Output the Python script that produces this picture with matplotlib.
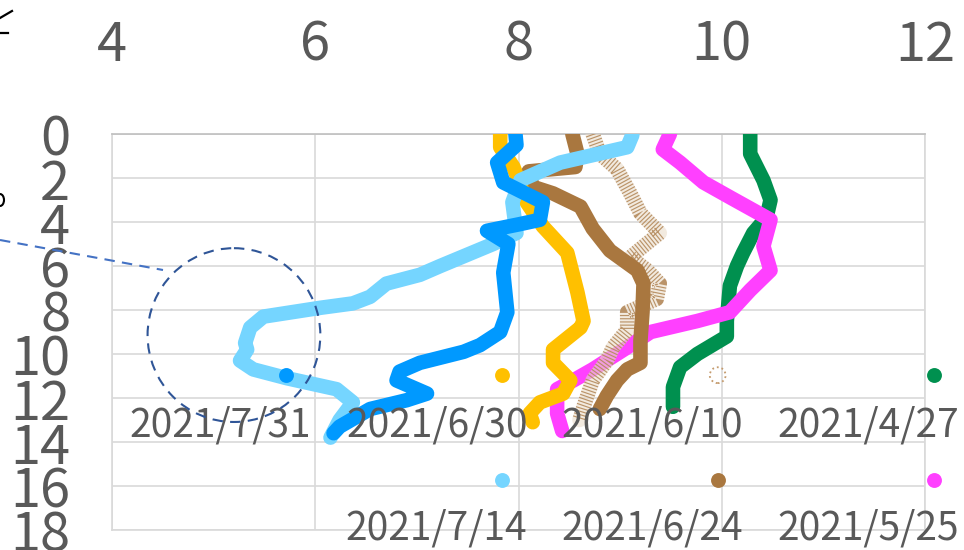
import matplotlib
matplotlib.use("Agg")
import matplotlib.pyplot as plt
from matplotlib.patches import Ellipse, Arc
from matplotlib.lines import Line2D

plt.rcParams['font.family'] = ['Noto Sans CJK JP', 'DejaVu Sans']

# depth profiles (x value, depth m)
x_0731 = [7.97, 7.98, 7.79, 7.85, 8.24, 8.21, 8.01, 7.69, 7.90, 7.85, 7.89, 7.82,
          7.62, 7.46, 7.03, 6.83, 6.80, 7.10, 6.90, 6.54, 6.24, 6.18]
y_0731 = [0, 0.5, 1.3, 2.2, 3.1, 3.9, 4.1, 4.4, 5.0, 6.3, 8.1, 9.0,
          9.6, 9.9, 10.4, 10.8, 11.2, 11.8, 12.1, 12.5, 13.3, 13.6]

x_0714 = [9.12, 9.07, 8.41, 8.02, 7.94, 7.98, 7.75, 7.23, 7.03, 6.70, 6.54, 6.37,
          6.05, 5.49, 5.36, 5.31, 5.33, 5.26, 5.39, 5.72, 6.21, 6.37, 6.24, 6.15]
y_0714 = [0.05, 0.6, 1.3, 2.1, 3.1, 4.5, 5.0, 6.0, 6.4, 6.8, 7.4, 7.7,
          7.9, 8.3, 8.8, 9.5, 9.8, 10.3, 10.7, 11.1, 11.6, 12.2, 13.0, 13.8]

x_0630 = [7.82, 7.82, 7.95, 8.08, 8.24, 8.48, 8.58, 8.64, 8.61, 8.34, 8.34, 8.51,
          8.44, 8.21, 8.11, 8.14]
y_0630 = [0, 0.6, 1.5, 3.1, 4.2, 5.4, 7.2, 8.5, 8.8, 9.8, 10.4, 11.2,
          11.8, 12.2, 12.7, 13.1]

x_0624 = [8.53, 8.58, 8.56, 8.10, 8.14, 8.34, 8.61, 8.73, 8.90, 9.17, 9.23, 9.22,
          9.20, 9.20, 9.07, 8.97, 8.87, 8.80]
y_0624 = [0, 0.9, 1.5, 1.7, 2.4, 2.7, 3.3, 4.3, 5.3, 6.2, 6.8, 8.1,
          9.4, 10.4, 10.7, 11.2, 11.9, 12.5]

x_0610 = [8.73, 8.80, 8.97, 9.10, 9.20, 9.39, 9.23, 9.10, 9.27, 9.39, 9.36, 9.07,
          9.07, 8.93, 8.87, 8.73, 8.64, 8.60]
y_0610 = [0, 0.9, 1.6, 2.7, 3.6, 4.5, 5.1, 5.6, 6.2, 6.8, 7.5, 8.1,
          8.9, 9.7, 10.3, 11.2, 12.4, 13.0]

x_0525 = [9.49, 9.42, 9.59, 9.82, 10.09, 10.48, 10.41, 10.48, 10.28, 10.08, 9.76, 9.30,
          9.07, 8.73, 8.54, 8.38, 8.38, 8.43]
y_0525 = [0, 0.7, 1.3, 2.2, 2.9, 3.9, 5.1, 6.2, 7.1, 8.1, 8.5, 9.0,
          9.7, 10.7, 11.2, 11.6, 12.7, 13.5]

x_0427 = [10.28, 10.28, 10.41, 10.48, 10.44, 10.31, 10.21, 10.15, 10.08, 10.05, 10.05,
          9.76, 9.59, 9.52, 9.52]
y_0427 = [0, 0.9, 2.1, 3.0, 3.8, 4.5, 5.4, 6.0, 6.9, 8.5, 9.2,
          10.0, 10.6, 11.5, 12.4]

labels = ['2021/7/31', '2021/6/30', '2021/6/10', '2021/4/27',
          '2021/7/14', '2021/6/24', '2021/5/25']
colors = {'2021/7/31': '#0099FF', '2021/7/14': '#75D5FF', '2021/6/30': '#FFC000',
          '2021/6/24': '#A9773F', '2021/6/10': '#A9773F', '2021/5/25': '#FF40FF',
          '2021/4/27': '#00904F'}
xticks = [4, 6, 8, 10, 12]
yticks = list(range(0, 20, 2))

fig = plt.figure(figsize=(9.64, 5.5), dpi=100)
ax = fig.add_axes([112 / 964, 20 / 550, 813 / 964, 396 / 550])

ax.set_xlim(4, 12)
ax.set_ylim(18, 0)
ax.xaxis.tick_top()
ax.set_xticks(xticks)
ax.set_yticks(yticks)
ax.tick_params(axis='x', length=0, labelsize=39, colors='#595959', pad=44)
ax.tick_params(axis='y', length=0, labelsize=39, colors='#595959', pad=30)
ax.grid(color='#D9D9D9', lw=1.2)
ax.set_axisbelow(True)
for s in ax.spines.values():
    s.set_color('#D9D9D9')
    s.set_linewidth(1.2)
ax.spines['top'].set_color('#BFBFBF')

lw = 10.5
kw = dict(solid_capstyle='round', solid_joinstyle='round', zorder=3)
ax.plot(x_0427, y_0427, color=colors['2021/4/27'], lw=lw, **kw)
ax.plot(x_0525, y_0525, color=colors['2021/5/25'], lw=lw, **kw)
# stippled series
ax.plot(x_0610, y_0610, color='#EADCCB', lw=lw, alpha=0.6, **kw)
ax.plot(x_0610, y_0610, color='#B48A5C', lw=lw, ls=(0, (0.08, 0.14)),
        alpha=0.9, zorder=3)
ax.plot(x_0624, y_0624, color=colors['2021/6/24'], lw=lw, **kw)
ax.plot(x_0630, y_0630, color=colors['2021/6/30'], lw=lw, **kw)
ax.plot(x_0714, y_0714, color=colors['2021/7/14'], lw=lw, **kw)
ax.plot(x_0731, y_0731, color=colors['2021/7/31'], lw=lw, **kw)

# legend laid out like the original (4 columns x 2 rows)
slots = [(0, 0), (1, 0), (2, 0), (3, 0), (1, 1), (2, 1), (3, 1)]
col_x = [0.214, 0.480, 0.745, 1.011]
row_dot_y = [0.391, 0.126]
row_txt_y = [0.265, 0.003]
for lab, (c, r) in zip(labels, slots):
    if lab == '2021/6/10':
        ax.scatter([col_x[c]], [row_dot_y[r]], s=130, facecolors='none',
                   edgecolors='#C49A6C', linestyles=':', linewidths=1.3,
                   transform=ax.transAxes, clip_on=False, zorder=4)
    else:
        ax.scatter([col_x[c]], [row_dot_y[r]], s=115, color=colors[lab],
                   transform=ax.transAxes, clip_on=False, zorder=4, lw=0)
    ax.text(col_x[c] + 0.031, row_txt_y[r], lab, transform=ax.transAxes,
            ha='right', va='center', fontsize=28, color='#595959', zorder=5)

# hand-drawn callout
ax.add_patch(Ellipse((5.2, 9.14), 1.7, 7.9, fill=False, ec='#2F5597', lw=1.5,
                     ls=(0, (5, 3.5)), clip_on=False, zorder=6))
fig.add_artist(Line2D([0, 163 / 964], [1 - 240 / 550, 1 - 270 / 550],
                      color='#4472C4', lw=1.5, ls=(0, (5, 3.5))))

# fragments of cropped handwriting at the left edge
W, H = 964, 550
fig.add_artist(Line2D([0, 12 / W], [1 - 18 / H, 1 - 11 / H], color='black', lw=1.6))
fig.add_artist(Line2D([0, 8 / W], [1 - 33 / H, 1 - 33 / H], color='black', lw=1.6))
fig.add_artist(Arc((0, 1 - 200 / H), 8 / W, 12 / H, theta1=-90, theta2=90,
                   color='black', lw=1.5, transform=fig.transFigure))

fig.savefig('out.png', dpi=100)
